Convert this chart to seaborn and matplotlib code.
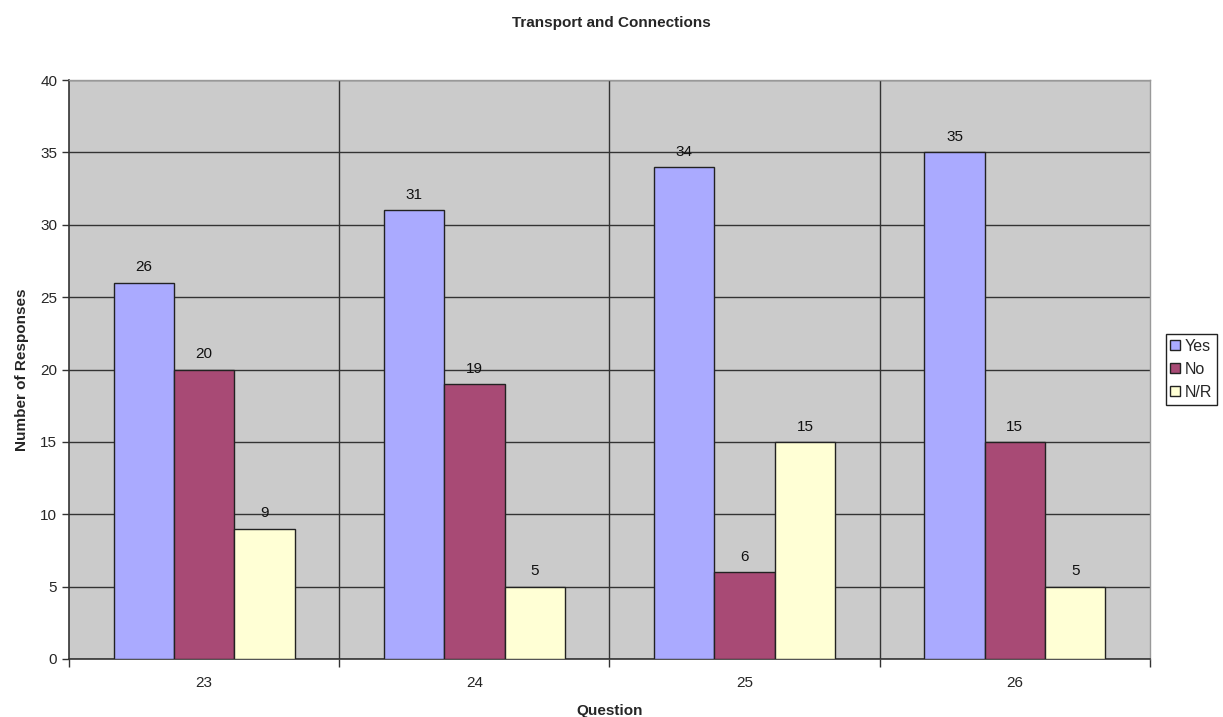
import matplotlib
matplotlib.use("Agg")
import matplotlib.pyplot as plt
import seaborn as sns
import pandas as pd

questions = ["23", "24", "25", "26"]
responses = ["Yes", "No", "N/R"]
yes_counts = [26, 31, 34, 35]
no_counts = [20, 19, 6, 15]
nr_counts = [9, 5, 15, 5]

colors = ["#AAAAFF", "#A84A75", "#FFFFD5"]

rows = []
for series, vals in zip(responses, [yes_counts, no_counts, nr_counts]):
    for q, v in zip(questions, vals):
        rows.append({"Question": q, "Response": series, "Count": v})
df = pd.DataFrame(rows)

sns.set_style("white")
plt.rcParams["font.family"] = ["Liberation Sans", "DejaVu Sans"]

fig = plt.figure(figsize=(12.23, 7.17), dpi=100)
ax = fig.add_axes([0.0564, 0.0809, 0.8839, 0.8075])
ax.set_facecolor("#CBCBCB")

sns.barplot(data=df, x="Question", y="Count", hue="Response",
            order=questions, hue_order=responses, palette=colors,
            width=0.67, edgecolor="#222222", linewidth=1.0,
            saturation=1, ax=ax, legend=True, zorder=3)

for cont in ax.containers:
    ax.bar_label(cont, padding=6, fontsize=11, color="#111111")

ax.set_ylim(0, 40)
ax.set_xlim(-0.5, len(questions) - 0.5)
ax.set_yticks(range(0, 41, 5))
ax.yaxis.grid(True, color="#333333", linewidth=1.0, zorder=0)
for b in range(1, len(questions)):
    ax.axvline(b - 0.5, color="#333333", linewidth=1.0, zorder=0)
ax.set_axisbelow(True)

ax.tick_params(axis="y", length=5, width=1, color="#333333", labelsize=11, direction="out", left=True)
ax.tick_params(axis="x", length=0, labelsize=11, pad=12)
ax.set_xticks([i - 0.5 for i in range(len(questions) + 1)], minor=True)
ax.tick_params(axis="x", which="minor", length=6, width=1, color="#333333", bottom=True)

for side in ["left", "bottom"]:
    ax.spines[side].set_color("#333333")
    ax.spines[side].set_linewidth(1.2)
for side in ["top", "right"]:
    ax.spines[side].set_color("#999999")
    ax.spines[side].set_linewidth(1.0)

ax.set_xlabel("Question", fontsize=11, fontweight="bold", labelpad=10)
ax.set_ylabel("Number of Responses", fontsize=11, fontweight="bold", labelpad=8)
fig.suptitle("Transport and Connections", fontsize=11, fontweight="bold", y=0.978)

handles, labels = ax.get_legend_handles_labels()
ax.legend(handles, labels, loc="center left", bbox_to_anchor=(1.01, 0.5),
          frameon=True, fancybox=False, edgecolor="#222222", fontsize=11.5,
          handlelength=0.6, handleheight=0.6, handletextpad=0.3,
          borderpad=0.3, labelspacing=0.5, borderaxespad=0.3, framealpha=1)
ax.get_legend().get_frame().set_linewidth(1.0)

fig.savefig("out.png", dpi=100, facecolor="white")
